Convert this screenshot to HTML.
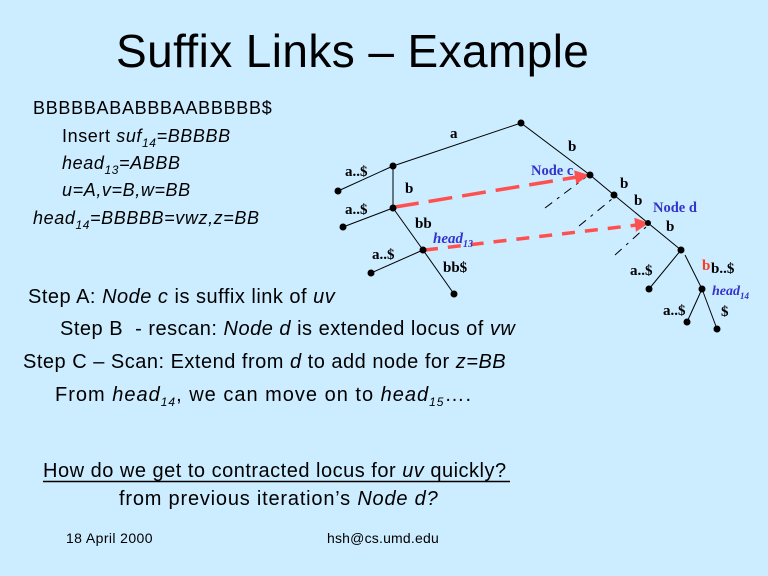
<!DOCTYPE html>
<html>
<head>
<meta charset="utf-8">
<style>
  html, body { margin:0; padding:0; background:#CCECFF; }
  svg { display:block; }
  .sans { font-family:"Liberation Sans", Arial, sans-serif; fill:#000; }
  .serif { font-family:"Liberation Serif", "Times New Roman", serif; font-weight:bold; fill:#000; font-size:15px; }
  .blue { fill:#3333cc; }
</style>
</head>
<body>
<svg width="768" height="576" viewBox="0 0 768 576" xmlns="http://www.w3.org/2000/svg">
  <rect x="0" y="0" width="768" height="576" fill="#CCECFF"/>

  <!-- Title -->
  <text class="sans" x="116" y="67" font-size="46" style="letter-spacing:0.4px">Suffix Links – Example</text>

  <!-- Left block -->
  <g class="sans" font-size="18" style="letter-spacing:0.6px">
    <text x="33" y="114" style="letter-spacing:0.7px">BBBBBABABBBAABBBBB$</text>
    <text x="62" y="142">Insert <tspan font-style="italic">suf</tspan><tspan font-style="italic" font-size="12" dy="5">14</tspan><tspan font-style="italic" dy="-5">=BBBBB</tspan></text>
    <text x="62" y="169"><tspan font-style="italic">head</tspan><tspan font-style="italic" font-size="12" dy="5">13</tspan><tspan font-style="italic" dy="-5">=ABBB</tspan></text>
    <text x="62" y="196" font-style="italic">u=A,v=B,w=BB</text>
    <text x="33" y="224"><tspan font-style="italic">head</tspan><tspan font-style="italic" font-size="12" dy="5">14</tspan><tspan font-style="italic" dy="-5">=BBBBB=vwz,z=BB</tspan></text>
  </g>

  <!-- Steps -->
  <g class="sans" font-size="20" style="letter-spacing:0.5px">
    <text x="28" y="303">Step A: <tspan font-style="italic">Node c</tspan> is suffix link of <tspan font-style="italic">uv</tspan></text>
    <text x="60" y="335" xml:space="preserve">Step B  - rescan: <tspan font-style="italic">Node d</tspan> is extended locus of <tspan font-style="italic">vw</tspan></text>
    <text x="23" y="368">Step C – Scan: Extend from <tspan font-style="italic">d</tspan> to add node for <tspan font-style="italic">z=BB</tspan></text>
    <text x="55" y="401" style="letter-spacing:1px">From <tspan font-style="italic">head</tspan><tspan font-style="italic" font-size="12" dy="5">14</tspan><tspan dy="-5">, we can move on to </tspan><tspan font-style="italic">head</tspan><tspan font-style="italic" font-size="12" dy="5">15</tspan><tspan dy="-5">….</tspan></text>
    <text x="43" y="477">How do we get to contracted locus for <tspan font-style="italic">uv</tspan> quickly?</text>
    <text x="119" y="505" style="letter-spacing:0.8px">from previous iteration’s <tspan font-style="italic">Node d?</tspan></text>
  </g>
  <line x1="43" y1="481.5" x2="510" y2="481.5" stroke="#000" stroke-width="1.5"/>

  <!-- Footer -->
  <text class="sans" x="66" y="543" font-size="14" style="letter-spacing:0.4px">18 April 2000</text>
  <text class="sans" x="327" y="543" font-size="14" style="letter-spacing:0.2px">hsh@cs.umd.edu</text>

  <!-- Tree edges -->
  <g stroke="#000" stroke-width="1" fill="none">
    <line x1="521" y1="123" x2="393" y2="166"/>
    <line x1="393" y1="166" x2="338" y2="191"/>
    <line x1="393" y1="166" x2="393" y2="208"/>
    <line x1="393" y1="208" x2="343" y2="227"/>
    <line x1="393" y1="208" x2="423" y2="250"/>
    <line x1="423" y1="250" x2="371" y2="273"/>
    <line x1="423" y1="250" x2="454" y2="294"/>
    <line x1="521" y1="123" x2="590" y2="175"/>
    <line x1="590" y1="175" x2="614" y2="195"/>
    <line x1="614" y1="195" x2="648" y2="223"/>
    <line x1="648" y1="223" x2="681" y2="250"/>
    <line x1="681" y1="250" x2="649" y2="289"/>
    <line x1="685" y1="255" x2="702" y2="289"/>
    <line x1="702" y1="289" x2="687" y2="322"/>
    <line x1="702" y1="289" x2="717" y2="329"/>
  </g>

  <!-- thin dash-dot lines -->
  <g stroke="#000" stroke-width="1" fill="none" stroke-dasharray="9 6 3 6">
    <line x1="545" y1="208" x2="586" y2="177"/>
    <line x1="579" y1="226" x2="612" y2="199"/>
    <line x1="615" y1="255" x2="646" y2="227"/>
  </g>

  <!-- Red dashed arrows -->
  <g stroke="#ff5050" stroke-width="3.5" fill="none">
    <line x1="395" y1="207" x2="577" y2="177" stroke-dasharray="24 10"/>
    <line x1="425" y1="250" x2="637" y2="225" stroke-dasharray="13 10"/>
  </g>
  <polygon points="589,175 576.3,184.2 574.1,170.4" fill="#ff5050"/>
  <polygon points="649,223 635.9,231.7 634.3,217.7" fill="#ff5050"/>

  <!-- Nodes -->
  <g fill="#000">
    <circle cx="521" cy="123" r="3.5"/>
    <circle cx="393" cy="166" r="3.5"/>
    <circle cx="338" cy="191" r="3.5"/>
    <circle cx="393" cy="208" r="3.5"/>
    <circle cx="343" cy="227" r="3.5"/>
    <circle cx="423" cy="250" r="3.5"/>
    <circle cx="371" cy="273" r="3.5"/>
    <circle cx="454" cy="294" r="3.5"/>
    <circle cx="590" cy="175" r="3.5"/>
    <circle cx="614" cy="195" r="3.5"/>
    <circle cx="648" cy="223" r="3"/>
    <circle cx="681" cy="250" r="3.5"/>
    <circle cx="649" cy="289" r="3.5"/>
    <circle cx="702" cy="289" r="3.5"/>
    <circle cx="687" cy="322" r="3.5"/>
    <circle cx="717" cy="329" r="3.5"/>
  </g>

  <!-- Tree labels -->
  <g class="serif">
    <text x="450" y="138">a</text>
    <text x="345" y="176">a..$</text>
    <text x="405" y="193">b</text>
    <text x="345" y="214">a..$</text>
    <text x="415" y="228">bb</text>
    <text x="372" y="259">a..$</text>
    <text x="443" y="272">bb$</text>
    <text x="568" y="151">b</text>
    <text x="620" y="188">b</text>
    <text x="634" y="205">b</text>
    <text x="666" y="231">b</text>
    <text x="630" y="275">a..$</text>
    <text x="702" y="270" style="fill:#ff3b1f">b</text>
    <text x="711" y="273">b..$</text>
    <text x="663" y="315">a..$</text>
    <text x="721" y="316">$</text>
    <text x="531" y="175" class="blue" font-size="14.5">Node c</text>
    <text x="653" y="212" class="blue" font-size="14.5">Node d</text>
    <text x="433" y="243" class="blue" font-style="italic">head<tspan font-size="10" dy="4">13</tspan></text>
    <text x="712" y="295" class="blue" font-style="italic" font-size="14">head<tspan font-size="9" dy="4">14</tspan></text>
  </g>
</svg>
</body>
</html>
